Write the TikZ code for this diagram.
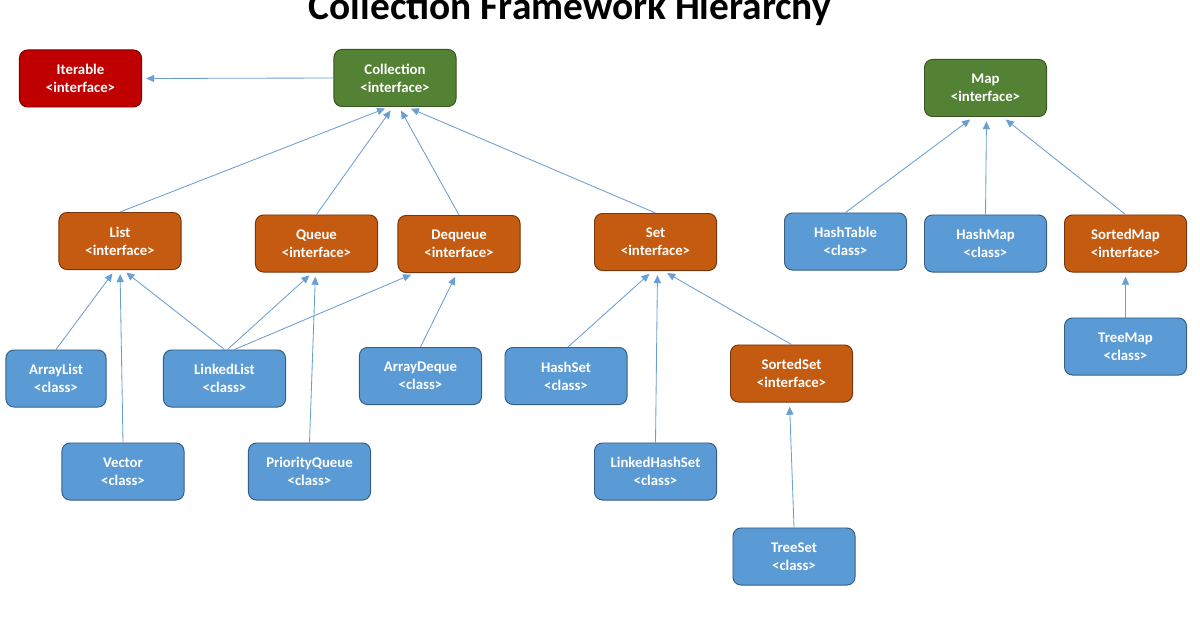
\documentclass[tikz,border=0pt]{standalone}
\usepackage{fontspec}
\setmainfont{Carlito}
\usetikzlibrary{arrows.meta}
\definecolor{rootred}{HTML}{C00000}
\definecolor{topgreen}{HTML}{548235}
\definecolor{ifaceorange}{HTML}{C55A11}
\definecolor{classblue}{HTML}{5B9BD5}
\definecolor{linkblue}{HTML}{6A9FD3}
\tikzset{
  box/.style={rounded corners=0.2cm, minimum width=3.05cm, minimum height=1.425cm,
    inner sep=0pt, align=center, text=white, line width=0.7pt,
    font=\bfseries\fontsize{10.5}{12.8}\selectfont},
  rootbox/.style={box, fill=rootred, draw=rootred!65!black},
  topbox/.style={box, fill=topgreen, draw=topgreen!65!black},
  ifacebox/.style={box, fill=ifaceorange, draw=ifaceorange!60!black},
  classbox/.style={box, fill=classblue, draw=classblue!60!black},
  isa/.style={draw=linkblue, line width=0.6pt, shorten >=3pt,
    -{Triangle[length=2mm,width=1.8mm]}}
}
\begin{document}
\begin{tikzpicture}[x=0.025cm,y=-0.025cm]
  \useasboundingbox (0,0) rectangle (1200,630);
  \node[anchor=base, font=\bfseries\fontsize{28}{30}\selectfont] (title) at (570,20) {Collection Framework Hierarchy};

  \node[rootbox] (iterable) at (80.5,78.5) {Iterable\\<interface>};
  \node[topbox] (collection) at (395,78) {Collection\\<interface>};
  \node[topbox] (map) at (985.5,88) {Map\\<interface>};

  \node[ifacebox] (list) at (120,241) {List\\<interface>};
  \node[ifacebox] (queue) at (316.5,243.5) {Queue\\<interface>};
  \node[ifacebox] (deque) at (459,244) {Dequeue\\<interface>};
  \node[ifacebox] (set) at (655.5,242) {Set\\<interface>};
  \node[classbox] (hashtable) at (845.5,241.5) {HashTable\\<class>};
  \node[classbox] (hashmap) at (985.5,243.5) {HashMap\\<class>};
  \node[ifacebox] (sortedmap) at (1125.5,243.5) {SortedMap\\<interface>};

  \node[classbox, minimum width=2.5cm] (arraylist) at (56,378.5) {ArrayList\\<class>};
  \node[classbox] (linkedlist) at (224.5,378.5) {LinkedList\\<class>};
  \node[classbox] (arraydeque) at (420.5,376) {ArrayDeque\\<class>};
  \node[classbox] (hashset) at (566,376) {HashSet\\<class>};
  \node[ifacebox] (sortedset) at (791.5,373.5) {SortedSet\\<interface>};
  \node[classbox] (treemap) at (1125.5,346.5) {TreeMap\\<class>};

  \node[classbox] (vector) at (123,471.5) {Vector\\<class>};
  \node[classbox] (priorityqueue) at (309.5,471.5) {PriorityQueue\\<class>};
  \node[classbox] (linkedhashset) at (655.5,471.5) {LinkedHashSet\\<class>};
  \node[classbox] (treeset) at (794,556.5) {TreeSet\\<class>};

  \draw[isa] (collection.west) -- (iterable.east);
  \draw[isa] (list.north) -- ([xshift=-0.15cm]collection.south);
  \draw[isa] (queue.north) -- ([xshift=-0.05cm]collection.south);
  \draw[isa] (deque.north) -- ([xshift=0.1cm]collection.south);
  \draw[isa] (set.north) -- ([xshift=0.3cm]collection.south);

  \draw[isa] (arraylist.north) -- ([xshift=-0.125cm]list.south);
  \draw[isa] (vector.north) -- (list.south);
  \draw[isa] (linkedlist.north) -- ([xshift=0.075cm]list.south);
  \draw[isa] ([xshift=0.075cm]linkedlist.north) -- ([xshift=-0.1cm]queue.south);
  \draw[isa] ([xshift=0.25cm]linkedlist.north) -- ([xshift=-1.1cm]deque.south);
  \draw[isa] (priorityqueue.north) -- ([xshift=-0.025cm]queue.south);
  \draw[isa] (arraydeque.north) -- ([xshift=-0.05cm]deque.south);

  \draw[isa] ([xshift=0.05cm]hashset.north) -- ([xshift=-0.075cm]set.south);
  \draw[isa] (linkedhashset.north) -- ([xshift=0.05cm]set.south);
  \draw[isa] (sortedset.north) -- ([xshift=0.2cm]set.south);
  \draw[isa] (treeset.north) -- ([xshift=-0.05cm]sortedset.south);

  \draw[isa] (hashtable.north) -- ([xshift=-0.3cm]map.south);
  \draw[isa] (hashmap.north) -- ([xshift=0.025cm]map.south);
  \draw[isa] (sortedmap.north) -- ([xshift=0.425cm]map.south);
  \draw[isa] (treemap.north) -- (sortedmap.south);
\end{tikzpicture}
\end{document}
